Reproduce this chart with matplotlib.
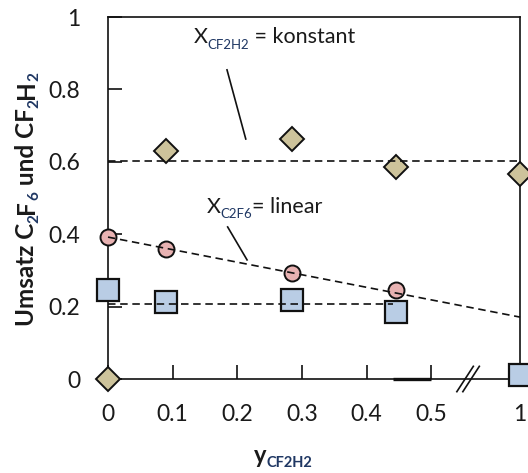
import numpy as np
import matplotlib
matplotlib.use("Agg")
import matplotlib.pyplot as plt
from matplotlib.lines import Line2D

plt.rcParams['font.family'] = ['Lato', 'DejaVu Sans']

# Feed fraction y_CF2H2 and measured conversions
y_feed = [0.0, 0.09, 0.285, 0.445, 1.0]
umsatz_cf2h2 = [0.0, 0.63, 0.662, 0.586, 0.565]
y_feed_circ = [0.0, 0.09, 0.285, 0.445]
umsatz_c2f6 = [0.392, 0.36, 0.293, 0.246]
umsatz_c2f6_sq = [0.245, 0.213, 0.217, 0.184, 0.01]

# Guide lines
const_x, const_y = [0.0, 1.0], [0.602, 0.602]
lin_x, lin_y = [0.0, 1.0], [0.392, 0.171]
sq_x, sq_y = [0.0, 0.44], [0.206, 0.206]

# Axis ticks
xticks = [0, 0.1, 0.2, 0.3, 0.4, 0.5, 1.0]
xticklabels = ['0', '0.1', '0.2', '0.3', '0.4', '0.5', '1']
yticks = [0, 0.2, 0.4, 0.6, 0.8, 1.0]
yticklabels = ['0', '0.2', '0.4', '0.6', '0.8', '1']

TXT = '#1a1a1a'
SUB = '#1f3763'
BREAK_AT = 0.5
SQUEEZE = 0.274


def fwd(x):
    x = np.asarray(x, dtype=float)
    return np.where(x <= BREAK_AT, x, BREAK_AT + (x - BREAK_AT) * SQUEEZE)


def inv(x):
    x = np.asarray(x, dtype=float)
    return np.where(x <= BREAK_AT, x, BREAK_AT + (x - BREAK_AT) / SQUEEZE)


fig = plt.figure(figsize=(5.28, 4.73), dpi=100)
ax = fig.add_axes([108 / 528, 94 / 473, 412 / 528, 362 / 473])
ax.set_xscale('function', functions=(fwd, inv))
ax.set_xlim(0, 1.0)
ax.set_ylim(0, 1.0)

for s in ax.spines.values():
    s.set_linewidth(1.2)
    s.set_color('#111111')

ax.set_xticks(xticks)
ax.set_xticklabels(xticklabels)
ax.set_yticks(yticks)
ax.set_yticklabels(yticklabels)
ax.xaxis.set_minor_locator(matplotlib.ticker.NullLocator())
ax.tick_params(axis='both', direction='in', length=10, width=1.2,
               labelsize=16.5, labelcolor=TXT, color='#111111')
ax.tick_params(axis='y', pad=20)
ax.tick_params(axis='x', pad=18)

dash = dict(color='#111111', lw=1.2, dashes=(4.5, 2.8), zorder=5, clip_on=False)
ax.plot(const_x, const_y, **dash)
ax.plot(lin_x, lin_y, **dash)
ax.plot(sq_x, sq_y, **dash)

ax.plot(y_feed, umsatz_cf2h2, ls='none', marker='D', ms=12.2, mfc='#cdc39b',
        mec='#111111', mew=1.4, zorder=4, clip_on=False)
ax.plot(y_feed_circ, umsatz_c2f6, ls='none', marker='o', ms=11.5, mfc='#e8b2b2',
        mec='#111111', mew=1.4, zorder=4, clip_on=False)
ax.plot(y_feed, umsatz_c2f6_sq, ls='none', marker='s', ms=15.5, mfc='#b9cde5',
        mec='#111111', mew=1.6, zorder=4, clip_on=False)

# Pointer lines for the annotations
ax.plot([0.184, 0.213], [0.854, 0.663], color='#111111', lw=1.2, zorder=5)
ax.plot([0.185, 0.215], [0.420, 0.329], color='#111111', lw=1.2, zorder=5)

# Heavier stroke on the axis just before the break
ax.plot([0.44, 0.5], [0.0, 0.0], color='#111111', lw=2.4, zorder=3,
        clip_on=False, solid_capstyle='butt')

# Axis break marks on the x axis
brk_x = 0.874
for dx in (-3, 3):
    trans = ax.transAxes + matplotlib.transforms.ScaledTranslation(dx / 100, 0, fig.dpi_scale_trans)
    ax.add_line(Line2D([brk_x - 0.02, brk_x + 0.02], [-0.035, 0.035], transform=trans,
                       color='#111111', lw=1.2, clip_on=False))


def chain_h(pieces, xy, xycoords):
    """Lay out text pieces left to right; pieces are (text, size, color, weight, dy)."""
    first = None
    prev = None
    for text, size, color, weight, dy in pieces:
        if first is None:
            t = ax.annotate(text, xy=xy, xycoords=xycoords, ha='left', va='baseline',
                            fontsize=size, color=color, fontweight=weight,
                            annotation_clip=False)
            first = t
        else:
            t = ax.annotate(text, xy=(1, 0), xycoords=(prev, first),
                            xytext=(0, dy), textcoords='offset points',
                            ha='left', va='bottom', fontsize=size, color=color,
                            fontweight=weight, annotation_clip=False)
        prev = t
    return first


def chain_v(pieces, xy, xycoords):
    """Lay out rotated text pieces bottom to top; pieces are (text, size, color, dx)."""
    first = None
    prev = None
    for text, size, color, dx in pieces:
        if first is None:
            t = ax.annotate(text, xy=xy, xycoords=xycoords, ha='right', va='bottom',
                            rotation=90, fontsize=size, color=color, fontweight='bold',
                            annotation_clip=False)
            first = t
        else:
            t = ax.annotate(text, xy=(1, 1), xycoords=(first, prev),
                            xytext=(dx, 0), textcoords='offset points',
                            ha='right', va='bottom', rotation=90, fontsize=size,
                            color=color, fontweight='bold', annotation_clip=False)
        prev = t
    return first


chain_h([('X', 15.5, TXT, 'normal', 0),
         ('CF2H2', 9.5, SUB, 'normal', -2.5),
         (' = konstant', 15.5, TXT, 'normal', 0)],
        xy=(0.132, 0.928), xycoords='data')

chain_h([('X', 15.5, TXT, 'normal', 0),
         ('C2F6', 9.5, SUB, 'normal', -2.5),
         ('= linear', 15.5, TXT, 'normal', 0)],
        xy=(0.152, 0.459), xycoords='data')

chain_h([('y', 17, TXT, 'bold', 0),
         ('CF2H2', 10.5, SUB, 'bold', -2.5)],
        xy=(254 / 528, (473 - 463) / 473), xycoords='figure fraction')

chain_v([('Umsatz C', 17.5, TXT, 0),
         ('2', 11, SUB, 2.5),
         ('F', 17.5, TXT, 0),
         ('6', 11, SUB, 2.5),
         (' und CF', 17.5, TXT, 0),
         ('2', 11, SUB, 2.5),
         ('H', 17.5, TXT, 0),
         ('2', 11, SUB, 2.5)],
        xy=(38 / 528, (473 - 326) / 473), xycoords='figure fraction')

fig.savefig('out.png', dpi=100)
